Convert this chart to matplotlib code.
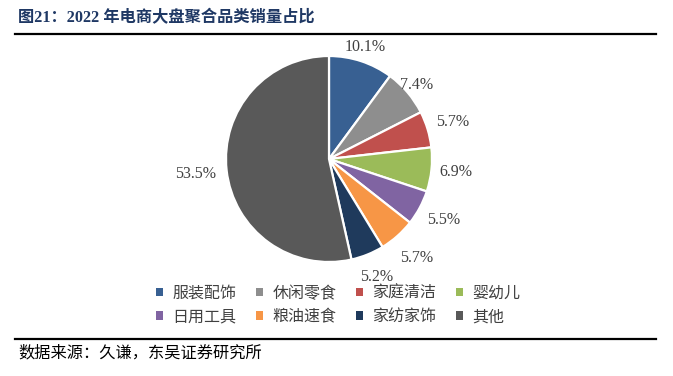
import numpy as np
import matplotlib.pyplot as plt
from matplotlib.lines import Line2D
from matplotlib.patches import Patch

plt.rcParams['font.family'] = ['Liberation Serif', 'Noto Sans CJK SC']

# data
cats = ['服装配饰', '休闲零食', '家庭清洁', '婴幼儿', '日用工具', '粮油速食', '家纺家饰', '其他']
share = [10.1, 7.4, 5.7, 6.9, 5.5, 5.7, 5.2, 53.5]
colors = ['#386092', '#8E8E8E', '#C0504D', '#9BBB59', '#8064A2', '#F79646', '#1F3A5C', '#595959']
# label distance tweaks (fraction of radius)
lab_dist = [1.14, 1.11, 1.25, 1.24, 1.26, 1.28, 1.24, 1.30]

W, H = 673, 376
fig = plt.figure(figsize=(W / 100, H / 100), dpi=100)

cx, cy, r = 329, 159, 103
ax = fig.add_axes([(cx - r) / W, 1 - (cy + r) / H, 2 * r / W, 2 * r / H])
wedges, _ = ax.pie(share, colors=colors, startangle=90, counterclock=False,
                   wedgeprops=dict(edgecolor='white', linewidth=1.6))
cum = np.cumsum([0] + share[:-1])
for i, v in enumerate(share):
    ang = np.deg2rad(90 - (cum[i] + v / 2) * 3.6)
    d = lab_dist[i]
    ax.text(d * np.cos(ang), d * np.sin(ang), f'{v:.1f}%', ha='center', va='center',
            fontsize=11.5, color='#404040')
ax.set_xlim(-1, 1)
ax.set_ylim(-1, 1)
ax.set_aspect('auto')
ax.axis('off')

# legend is filled row by row in the reference
order = [0, 4, 1, 5, 2, 6, 3, 7]
handles = [Patch(facecolor=colors[i], edgecolor='none') for i in order]
labels = [cats[i] for i in order]
leg = fig.legend(handles, labels, loc='center', bbox_to_anchor=(338 / W, 1 - 305 / H), ncol=4,
                 frameon=False, handlelength=0.45, handleheight=0.45,
                 handletextpad=0.6, columnspacing=1.2, labelspacing=0.4,
                 prop={'family': ['Noto Sans CJK SC'], 'size': 11.5})
for t in leg.get_texts():
    t.set_color('#404040')

fig.text(18 / W, 1 - 18 / H, '图21：2022 年电商大盘聚合品类销量占比', fontsize=11.7,
         fontweight='bold', color='#1F3864', ha='left', va='center')
fig.add_artist(Line2D([15 / W, 656 / W], [1 - 34 / H, 1 - 34 / H], color='black', lw=1.6))
fig.add_artist(Line2D([15 / W, 656 / W], [1 - 339 / H, 1 - 339 / H], color='black', lw=1.6))
fig.text(18 / W, 1 - 353 / H, '数据来源：久谦，东吴证券研究所', fontsize=11.7,
         color='black', ha='left', va='center', family=['Noto Sans CJK SC'])

fig.savefig('out.png', dpi=100)
